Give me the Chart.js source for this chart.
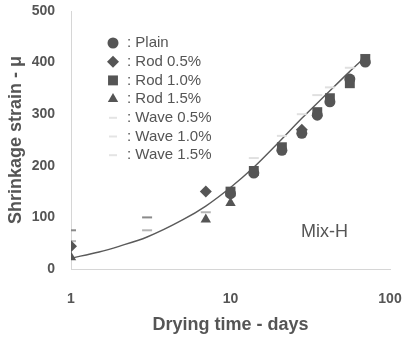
<!DOCTYPE html>
<html>
<head>
<meta charset="utf-8">
<script src="https://cdn.jsdelivr.net/npm/chart.js@4.4.1/dist/chart.umd.min.js"></script>
<style>
  html, body { margin: 0; padding: 0; background: #fff; }
  #wrap { width: 404px; height: 340px; }
</style>
</head>
<body>
<div id="wrap"><canvas id="shrink" width="404" height="340"></canvas></div>
<script>
// drying times (days) at which specimens were measured
const days = [1, 3, 7, 10, 14, 21, 28, 35, 42, 56, 70];

// shrinkage strain (micro) per mix, null where nothing is visible
const plain  = [null, null, null, 146, 186, 230, 263, 298, 324, 368, 401];
const rod05  = [44, null, 150, null, null, null, 270, null, null, null, null];
const rod10  = [null, null, null, 150, 190, 236, null, 304, 331, 360, 407];
const rod15  = [23, null, 96, 128, null, null, null, null, null, null, null];
const wave05 = [75, 100, null, null, null, null, null, null, null, null, null];
const wave10 = [54, 75, 110, null, null, null, null, null, null, null, null];
const wave15 = [null, null, null, null, 215, 258, 300, 337, 352, 390, 415];

// fitted curve
const fitDays = [1, 1.5, 2, 3, 5, 7, 10, 14, 20, 28, 40, 56, 70];
const fitVals = [21, 33, 44, 62, 95, 122, 158, 197, 245, 292, 339, 383, 411];

const seriesNames = ['Plain', 'Rod 0.5%', 'Rod 1.0%', 'Rod 1.5%', 'Wave 0.5%', 'Wave 1.0%', 'Wave 1.5%'];
const xTicks = [1, 10, 100];
const mixLabel = { text: 'Mix-H', day: 38, value: 72 };

const toPts = (vals) => days.map((d, i) => ({ x: d, y: vals[i] })).filter(p => p.y !== null);

const dark = '#555';
const tickFont = { family: '"Liberation Sans", Arial, sans-serif', size: 14, weight: 'bold' };
const titleFont = { family: '"Liberation Sans", Arial, sans-serif', size: 18, weight: 'bold' };

const markerSet = (label, vals, style, radius, color, bw) => ({
  label: label,
  data: toPts(vals),
  pointStyle: style,
  pointRadius: radius,
  pointHoverRadius: radius,
  backgroundColor: color,
  borderColor: color,
  borderWidth: bw,
  showLine: false,
  legendRadius: radius
});

const datasets = [
  markerSet('Plain', plain, 'circle', 5.5, dark, 0),
  markerSet('Rod 0.5%', rod05, 'rectRot', 6, dark, 0),
  markerSet('Rod 1.0%', rod10, 'rect', 7, dark, 0),
  markerSet('Rod 1.5%', rod15, 'triangle', 6, dark, 0),
  markerSet('Wave 0.5%', wave05, 'line', 5, '#8a8a8a', 2),
  markerSet('Wave 1.0%', wave10, 'line', 5, '#b5b5b5', 2),
  markerSet('Wave 1.5%', wave15, 'line', 5, '#e0e0e0', 2),
  {
    label: 'fit',
    data: fitDays.map((d, i) => ({ x: d, y: fitVals[i] })),
    showLine: true,
    pointRadius: 0,
    borderColor: '#5a5a5a',
    borderWidth: 1.4,
    cubicInterpolationMode: 'monotone',
    fill: false
  }
];

const legendPlugin = {
  id: 'sideLegend',
  afterDraw(chart) {
    const ctx = chart.ctx;
    const area = chart.chartArea;
    ctx.save();
    ctx.textBaseline = 'middle';
    seriesNames.forEach((name, i) => {
      const ds = chart.data.datasets[i];
      const y = area.top + 32 + i * 18.7;
      const mx = area.left + 42;
      const c = i < 4 ? dark : '#e4e4e4';
      ctx.fillStyle = c;
      ctx.strokeStyle = c;
      ctx.lineWidth = 2;
      Chart.helpers.drawPoint(ctx, {
        pointStyle: ds.pointStyle,
        radius: i < 4 ? ds.legendRadius : 4,
        borderWidth: ds.borderWidth
      }, mx, y);
      ctx.fillStyle = dark;
      ctx.font = '15px "Liberation Sans", Arial, sans-serif';
      ctx.fillText(': ' + name, mx + 14, y);
    });
    // mix name
    const sx = chart.scales.x, sy = chart.scales.y;
    ctx.font = '18px "Liberation Sans", Arial, sans-serif';
    ctx.fillStyle = dark;
    ctx.textAlign = 'left';
    ctx.fillText(mixLabel.text, sx.getPixelForValue(mixLabel.day) - 22, sy.getPixelForValue(mixLabel.value));
    ctx.restore();
  }
};

new Chart(document.getElementById('shrink'), {
  type: 'scatter',
  data: { datasets: datasets },
  options: {
    responsive: false,
    devicePixelRatio: 1,
    animation: false,
    layout: { padding: { top: 11, right: 14, left: 0, bottom: 0 }, autoPadding: false },
    plugins: {
      legend: { display: false },
      tooltip: { enabled: false }
    },
    scales: {
      x: {
        type: 'logarithmic',
        min: 1,
        max: 100,
        afterBuildTicks: (s) => { s.ticks = xTicks.map(v => ({ value: v })); },
        afterFit: (s) => { s.height = 71; s.paddingLeft = 0; s.paddingRight = 0; },
        grid: { display: false, drawTicks: false },
        border: { display: true, color: '#d6d6d6', dash: [2, 3] },
        ticks: {
          autoSkip: false,
          maxRotation: 0,
          padding: 22,
          color: dark,
          font: tickFont,
          callback: (v) => String(v)
        },
        title: {
          display: true,
          text: 'Drying time - days',
          color: dark,
          font: titleFont,
          padding: { top: 0, bottom: 4 }
        }
      },
      y: {
        min: 0,
        max: 500,
        afterFit: (s) => { s.width = 71; s.paddingTop = 0; s.paddingBottom = 0; },
        grid: { display: false, drawTicks: false },
        border: { display: true, color: '#d6d6d6', dash: [2, 3] },
        ticks: {
          stepSize: 100,
          padding: 16,
          color: dark,
          font: tickFont
        },
        title: {
          display: true,
          text: 'Shrinkage strain - μ',
          color: dark,
          font: titleFont,
          padding: { top: 5, bottom: 0 }
        }
      }
    }
  },
  plugins: [legendPlugin]
});
</script>
</body>
</html>
